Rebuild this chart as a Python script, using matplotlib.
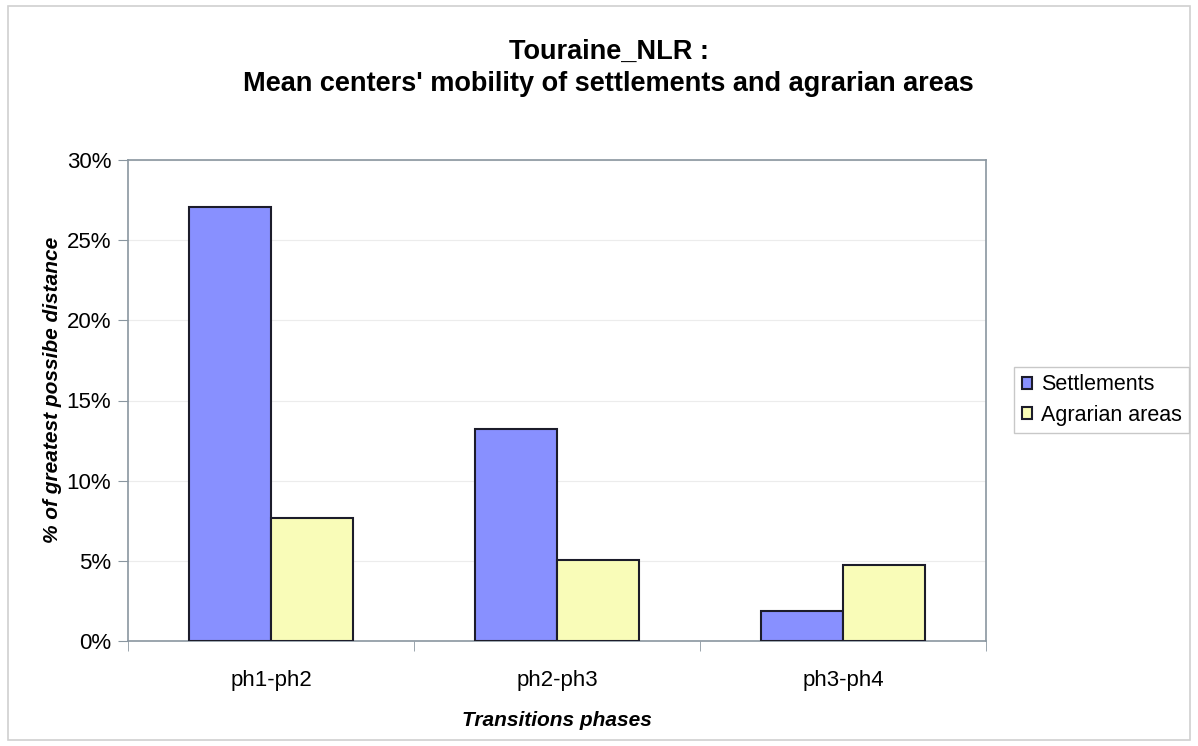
import matplotlib.pyplot as plt
import numpy as np
from matplotlib.patches import Rectangle

plt.rcParams["font.family"] = ["Liberation Sans", "DejaVu Sans"]

# data
phases = ["ph1-ph2", "ph2-ph3", "ph3-ph4"]
settlements = [0.2707, 0.1322, 0.0187]
agrarian = [0.0767, 0.0505, 0.0474]
y_ticks = [0.0, 0.05, 0.10, 0.15, 0.20, 0.25, 0.30]

SETTLE_COLOR = "#8890FF"
AGRAR_COLOR = "#F9FCB8"
EDGE = "#1c1c2a"
AXIS_GRAY = "#8a96a0"

fig = plt.figure(figsize=(11.98, 7.46), dpi=100)
fig.patches.append(Rectangle((8 / 1198, 6 / 746), 1182 / 1198, 734 / 746,
                             transform=fig.transFigure, fill=False,
                             edgecolor="#d0d0d0", linewidth=1.2))

ax = fig.add_axes([128 / 1198, 1 - 641 / 746, 858 / 1198, 481 / 746])
x = np.arange(len(phases))
w = 0.287
ax.bar(x - w / 2, settlements, w, color=SETTLE_COLOR, edgecolor=EDGE,
       linewidth=1.5, label="Settlements", zorder=3)
ax.bar(x + w / 2, agrarian, w, color=AGRAR_COLOR, edgecolor=EDGE,
       linewidth=1.5, label="Agrarian areas", zorder=3)

ax.set_xlim(-0.5, len(phases) - 0.5)
ax.set_ylim(0, 0.30)
ax.set_yticks(y_ticks)
ax.set_yticklabels([f"{v * 100:.0f}%" for v in y_ticks])
ax.set_xticks(x)
ax.set_xticklabels(phases)
ax.set_xticks(np.arange(-0.5, len(phases)), minor=True)
ax.tick_params(axis="x", which="major", length=0, pad=21, labelsize=16)
ax.tick_params(axis="x", which="minor", length=7, color=AXIS_GRAY, direction="out")
ax.tick_params(axis="y", length=7, color=AXIS_GRAY, labelsize=16, pad=5)
ax.grid(axis="y", color="#ececec", linewidth=0.8, zorder=0)
for s in ax.spines.values():
    s.set_color(AXIS_GRAY)
    s.set_linewidth(1.2)

ax.set_ylabel("% of greatest possibe distance", fontsize=15, fontweight="bold",
              style="italic")
ax.yaxis.set_label_coords(-0.077, 0.523)
ax.set_xlabel("Transitions phases", fontsize=15, fontweight="bold",
              style="italic", labelpad=14)

fig.text(0.508, 1 - 52 / 746, "Touraine_NLR :", ha="center", va="center",
         fontsize=19.5, fontweight="bold")
fig.text(0.508, 1 - 84 / 746,
         "Mean centers' mobility of settlements and agrarian areas",
         ha="center", va="center", fontsize=19.5, fontweight="bold")

leg = fig.legend(loc="center left", bbox_to_anchor=(1014 / 1198, 1 - 400 / 746),
                 fontsize=15.5, fancybox=False, framealpha=1,
                 edgecolor="#c8c8c8", handlelength=0.5, handleheight=0.5,
                 handletextpad=0.4, borderpad=0.35, labelspacing=0.42,
                 borderaxespad=0)
leg.get_frame().set_linewidth(1.0)

fig.savefig("out.png", dpi=100)
